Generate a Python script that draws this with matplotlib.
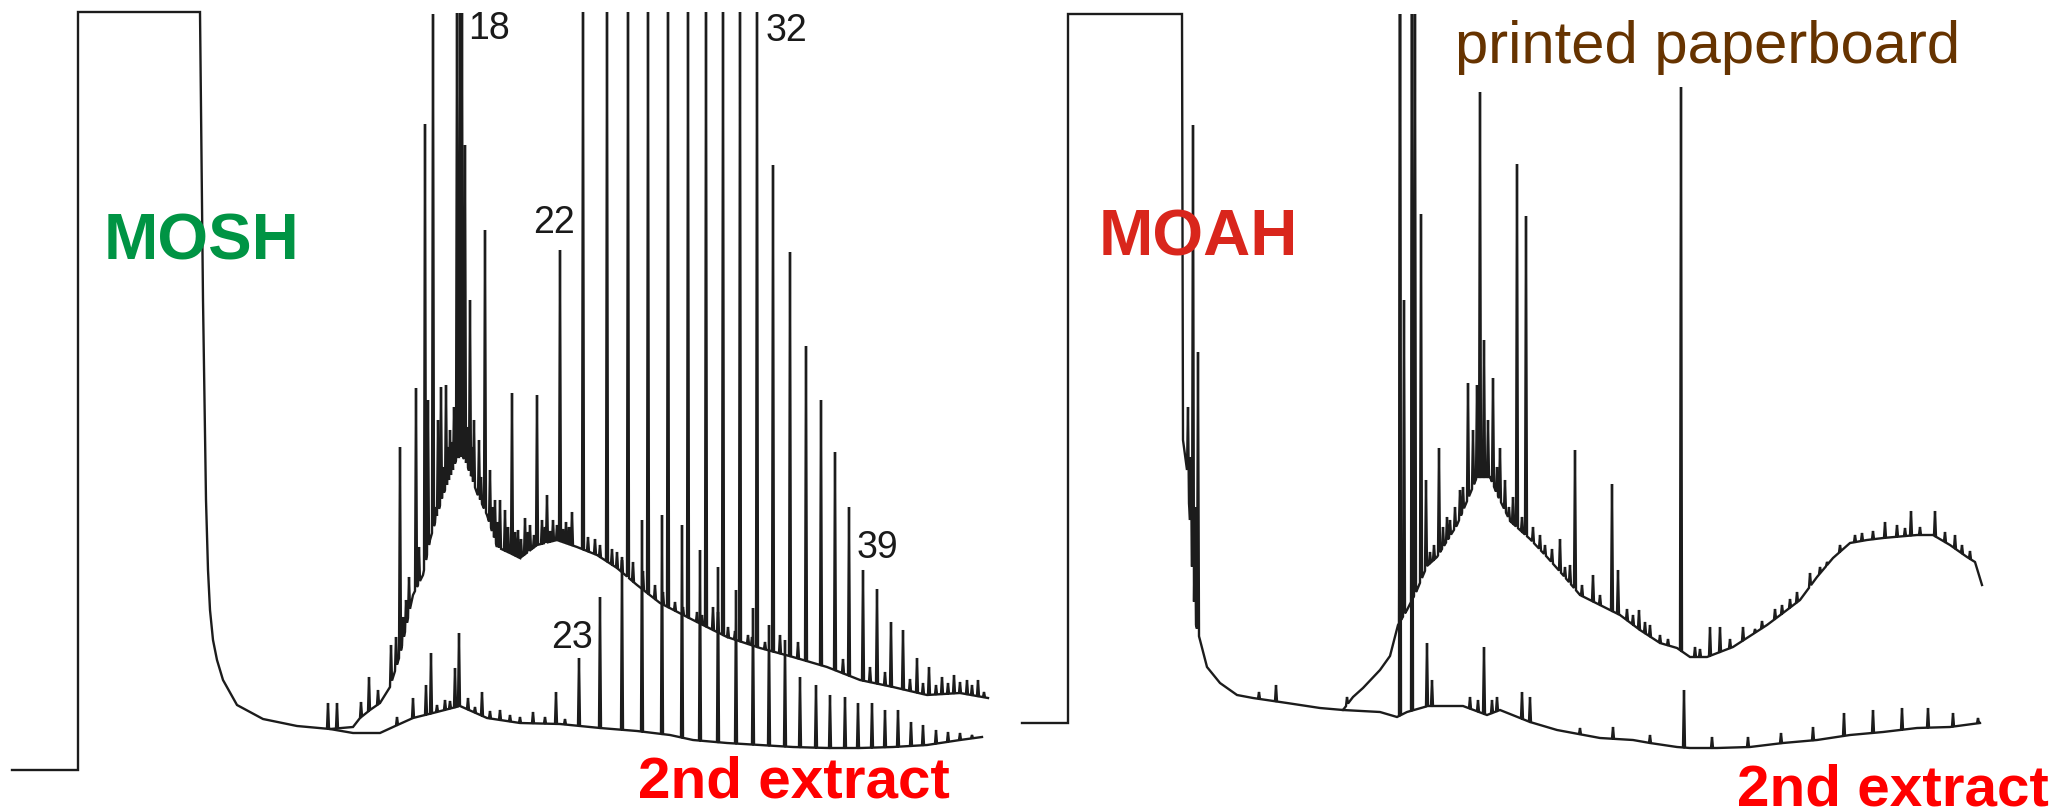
import numpy as np
import matplotlib.pyplot as plt

# GC-FID traces: x = retention position, y = detector response
# (1st extract = upper trace, 2nd extract = lower trace)

# ---- MOSH, 1st extract: baseline/hump ----
mosh1_rt = [12, 78, 78, 200, 203, 206, 208, 210, 213, 217,
            223, 237, 263, 297, 330, 353, 360, 370, 380, 390,
            400, 413, 423, 430, 443, 453, 457, 463, 467, 477, 487,
            497, 510, 520, 537, 557, 577, 597, 617, 637, 660,
            693, 727, 760, 793, 827, 860, 893, 927, 960, 988]
mosh1_sig = [37, 37, 795, 795, 507, 307, 237, 197, 167, 147,
             127, 102, 88, 81, 78, 80, 89, 97, 104, 120,
             152, 212, 232, 267, 312, 337, 350, 350, 342, 314, 292,
             260, 254, 249, 262, 267, 260, 252, 239, 222, 204,
             187, 170, 159, 150, 140, 127, 120, 112, 114, 109]

# MOSH, 1st extract: resolved peaks (n-alkanes C23..C48 + others)
mosh1_peak_rt = [328, 337, 361, 369, 378, 391, 400, 406, 416, 425,
                 428, 433, 438, 441, 446, 450, 454, 457, 460, 462,
                 465, 470, 474, 479, 485, 490, 495, 500, 505, 512,
                 518, 525, 530, 537, 542, 547, 553, 560, 566, 572,
                 583, 607, 628, 648, 668, 688, 706, 723, 740, 757,
                 773, 790, 806, 821, 835, 849, 863, 877, 891, 903,
                 917, 929, 942, 954, 967, 978,
                 595, 617, 713, 718, 780, 798, 843, 870, 885, 910,
                 923, 936, 948, 960, 972, 984]
mosh1_peak_sig = [104, 104, 105, 130, 117, 162, 360, 207, 419, 683,
                  407, 793, 387, 420, 422, 377, 400, 794, 794, 794,
                  662, 507, 387, 367, 577, 337, 307, 307, 297, 414,
                  277, 289, 282, 412, 287, 312, 287, 557, 285, 295,
                  795, 795, 795, 795, 795, 795, 795, 795, 795, 795,
                  642, 555, 461, 407, 355, 300, 237, 218, 185, 177,
                  149, 140, 130, 132, 127, 127,
                  268, 255, 200, 195, 172, 165, 148, 140, 135, 128,
                  124, 122, 124, 125, 122, 115]

# MOSH, 1st extract: small unresolved spikes on the hump
mosh1_minor_rt = [396, 403, 409, 419, 436, 443, 448, 452, 467, 472,
                  481, 493, 498, 508, 515, 521, 528, 534, 545, 550,
                  557, 563, 569, 588, 600, 612, 622, 633, 643, 655,
                  663, 675, 683, 697, 702, 728, 735, 748, 752, 765]
mosh1_minor_sig = [170, 190, 230, 260, 300, 340, 360, 365, 380, 360,
                   330, 300, 285, 280, 275, 268, 275, 272, 280, 276,
                   282, 278, 280, 270, 262, 258, 250, 245, 236, 222,
                   215, 205, 200, 195, 192, 180, 176, 172, 170, 165]

# ---- MOSH, 2nd extract ----
mosh2_rt = [330, 353, 380, 393, 413, 433, 460, 487, 520, 560, 600, 637,
            670, 693, 727, 760, 793, 827, 860, 893, 927, 960, 982]
mosh2_sig = [78, 74, 74, 80, 89, 94, 101, 89, 84, 83, 79, 76,
             72, 67, 64, 62, 60, 59, 59, 60, 62, 67, 70]
mosh2_peak_rt = [397, 413, 426, 431, 445, 455, 459, 468, 482, 500,
                 533, 556, 579, 600, 622, 642, 662, 682, 700, 718,
                 736, 753, 769, 785, 800, 816, 830, 845, 858, 872,
                 885, 898, 911, 923, 936, 948, 960, 972,
                 437, 450, 475, 490, 510, 520, 545, 565]
mosh2_peak_sig = [90, 109, 122, 154, 107, 139, 174, 109, 115, 97,
                  95, 115, 149, 210, 247, 287, 292, 282, 257, 240,
                  217, 199, 182, 167, 130, 122, 112, 110, 104, 104,
                  97, 97, 85, 82, 77, 75, 74, 72,
                  102, 106, 100, 96, 92, 90, 90, 88]

# ---- MOAH, 1st extract ----
moah1_rt = [1022, 1068, 1068, 1182, 1183, 1187, 1190, 1193, 1196, 1200,
            1207, 1220, 1237, 1253, 1287, 1320, 1343, 1353, 1363, 1380,
            1390, 1398, 1407, 1417, 1427, 1437, 1457, 1470, 1477, 1490, 1497,
            1510, 1530, 1547, 1563, 1580, 1600, 1620, 1640, 1660, 1677,
            1690, 1707, 1733, 1767, 1783, 1800, 1817, 1833, 1850, 1867,
            1883, 1917, 1933, 1950, 1967, 1975, 1982]
moah1_sig = [84, 84, 793, 793, 367, 337, 287, 217, 182, 167,
             140, 124, 112, 109, 104, 99, 97, 110, 119, 137,
             151, 182, 197, 217, 241, 250, 282, 313, 330, 330, 313,
             286, 268, 250, 232, 212, 202, 192, 177, 164, 159,
             150, 150, 160, 182, 194, 207, 230, 249, 264, 267,
             269, 272, 272, 262, 250, 245, 222]
moah1_peak_rt = [1193, 1198, 1259, 1276, 1347, 1400, 1404, 1412, 1415, 1421,
                 1426, 1439, 1450, 1460, 1468, 1473, 1477, 1480, 1484, 1488,
                 1493, 1500, 1505, 1517, 1526, 1540, 1560, 1570, 1575, 1593,
                 1612, 1618, 1639, 1650, 1681, 1710, 1720, 1743, 1782, 1810,
                 1840, 1885, 1897, 1911, 1935, 1955,
                 1188, 1191, 1195]
moah1_peak_sig = [682, 455, 115, 122, 110, 793, 507, 793, 793, 593,
                  327, 359, 287, 317, 424, 377, 422, 715, 467, 387,
                  429, 359, 327, 643, 591, 272, 268, 242, 357, 232,
                  323, 237, 197, 182, 720, 180, 180, 180, 202, 234,
                  262, 285, 282, 296, 296, 272,
                  400, 350, 300]

# MOAH, 1st extract: small spikes riding on the humps
moah1_minor_rt = [1430, 1434, 1443, 1447, 1455, 1463, 1497, 1509, 1513, 1522,
                  1533, 1545, 1552, 1565, 1582, 1600, 1627, 1633, 1645, 1660,
                  1668, 1695, 1700, 1730, 1755, 1762, 1775, 1790, 1797, 1820,
                  1827, 1855, 1862, 1873, 1905, 1920, 1945, 1962, 1970]
moah1_minor_sig = [255, 262, 280, 290, 300, 320, 340, 300, 310, 290,
                   280, 262, 258, 240, 222, 212, 198, 192, 185, 172,
                   168, 160, 158, 168, 178, 186, 198, 208, 215, 240,
                   245, 272, 274, 276, 279, 280, 275, 262, 256]

# ---- MOAH, 2nd extract ----
moah2_rt = [1343, 1380, 1397, 1407, 1428, 1463, 1487, 1500, 1530, 1557, 1600, 1633,
            1650, 1677, 1690, 1717, 1750, 1783, 1817, 1850, 1883, 1917, 1950, 1980]
moah2_sig = [97, 95, 90, 95, 101, 101, 92, 97, 85, 77, 69, 67,
             64, 60, 59, 59, 60, 64, 67, 72, 75, 79, 80, 84]
moah2_peak_rt = [1400, 1412, 1427, 1432, 1470, 1478, 1484, 1492, 1497, 1522,
                 1530, 1580, 1613, 1650, 1684, 1712, 1748, 1781, 1813, 1844,
                 1873, 1902, 1928, 1953, 1978]
moah2_peak_sig = [793, 793, 164, 127, 110, 107, 160, 107, 110, 115,
                  110, 79, 80, 72, 117, 70, 70, 74, 80, 94,
                  97, 99, 99, 94, 89]


def build_trace(bx, by, px, ph, half=1.0):
    # baseline polyline with narrow peaks inserted on top of it
    bx = np.asarray(bx, float)
    by = np.asarray(by, float)
    keep = np.ones(len(bx), bool)
    for x in px:
        keep &= ~((bx > x - half) & (bx < x + half))
    xs = list(bx[keep])
    ys = list(by[keep])
    for x, h in zip(px, ph):
        xs += [x - half, x, x + half]
        ys += [np.interp(x - half, bx, by), h, np.interp(x + half, bx, by)]
    order = np.argsort(xs, kind='stable')
    return np.array(xs)[order], np.array(ys)[order]


plt.rcParams['font.family'] = ['Liberation Sans', 'DejaVu Sans']
line_kw = dict(color='#1c1c1c', lw=1.7, solid_joinstyle='miter')

fig = plt.figure(figsize=(20.72, 8.07), dpi=100)
ax_l = fig.add_axes([0, 0, 1000 / 2072, 1])
ax_r = fig.add_axes([1000 / 2072, 0, 1072 / 2072, 1])

ax_l.plot(*build_trace(mosh2_rt, mosh2_sig, mosh2_peak_rt, mosh2_peak_sig), **line_kw)
ax_l.plot(*build_trace(mosh1_rt, mosh1_sig,
                       mosh1_peak_rt + mosh1_minor_rt,
                       mosh1_peak_sig + mosh1_minor_sig), **line_kw)
ax_r.plot(*build_trace(moah2_rt, moah2_sig, moah2_peak_rt, moah2_peak_sig), **line_kw)
ax_r.plot(*build_trace(moah1_rt, moah1_sig,
                       moah1_peak_rt + moah1_minor_rt,
                       moah1_peak_sig + moah1_minor_sig), **line_kw)

ax_l.set_xlim(0, 1000)
ax_r.set_xlim(1000, 2072)
for ax in (ax_l, ax_r):
    ax.set_ylim(0, 807)
    ax.axis('off')

# carbon-number labels
num_kw = dict(fontsize=27, color='#1a1a1a', va='baseline', ha='left')
ax_l.text(468, 768, '18', **num_kw)
ax_l.text(766, 766, '32', **num_kw)
ax_l.text(533, 574, '22', **num_kw)
ax_l.text(551, 159, '23', **num_kw)
ax_l.text(857, 249, '39', **num_kw)

ax_l.text(104, 547, 'MOSH', fontsize=47, fontweight='bold', color='#009444',
          va='baseline', ha='left')
ax_r.text(1099, 551, 'MOAH', fontsize=47, fontweight='bold', color='#d9261c',
          va='baseline', ha='left')
ax_r.text(1455, 744, 'printed paperboard', fontsize=43, color='#663300',
          va='baseline', ha='left')
ax_l.text(638, 10, '2nd extract', fontsize=42, fontweight='bold', color='#ff0000',
          va='baseline', ha='left', clip_on=False)
ax_r.text(1737, 1, '2nd extract', fontsize=42, fontweight='bold', color='#ff0000',
          va='baseline', ha='left', clip_on=False)

fig.savefig('out.png', dpi=100)
